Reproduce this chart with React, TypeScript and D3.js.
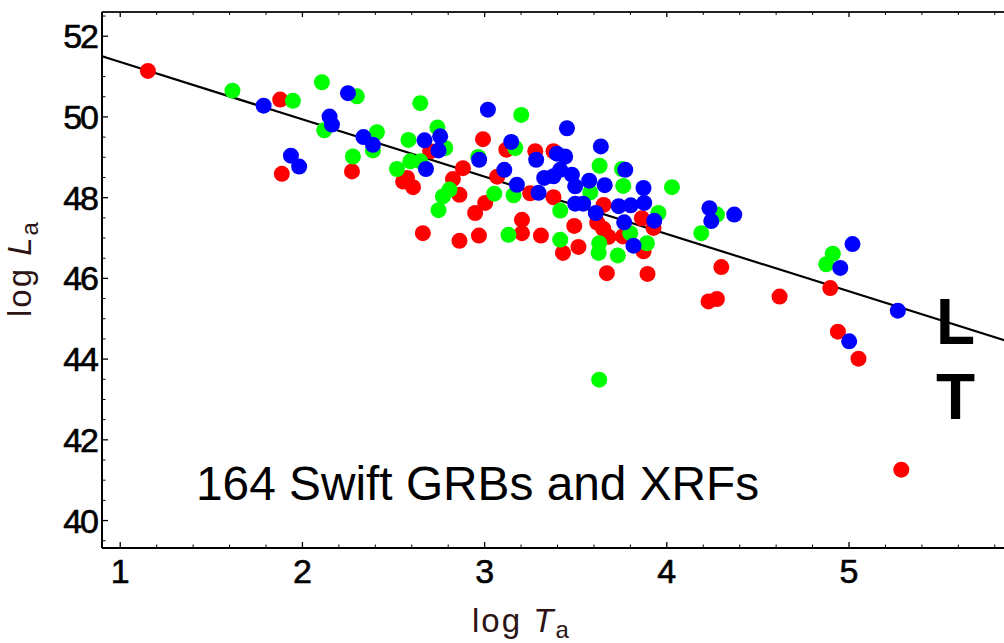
import React from 'react';
import * as d3 from 'd3';

// [log T_a, log L_a]
const redPoints: [number, number][] = [
  [1.152, 51.14], [1.878, 50.43], [1.887, 48.59], [2.272, 48.65], [2.574, 48.49],
  [2.607, 48.26], [2.553, 48.40], [2.701, 49.15], [2.881, 48.73], [2.826, 48.46],
  [2.862, 48.07], [2.991, 49.45], [3.003, 47.87], [2.948, 47.62], [2.661, 47.12],
  [2.862, 46.93], [2.969, 47.06], [3.069, 48.52], [3.119, 49.19], [3.278, 49.15],
  [3.378, 49.15], [3.250, 48.11], [3.378, 48.01], [3.205, 47.45], [3.205, 47.12],
  [3.309, 47.06], [3.430, 46.63], [3.515, 46.78], [3.492, 47.30], [3.653, 47.82],
  [3.618, 47.38], [3.651, 47.23], [3.680, 47.03], [3.759, 47.04], [3.863, 47.49],
  [3.927, 47.25], [3.872, 46.67], [3.671, 46.13], [3.894, 46.11], [4.299, 46.28],
  [4.229, 45.43], [4.275, 45.49], [4.619, 45.55], [4.897, 45.76], [4.939, 44.68],
  [5.052, 44.01], [5.287, 41.26],
];

const greenPoints: [number, number][] = [
  [1.616, 50.65], [1.948, 50.40], [2.107, 50.86], [2.299, 50.51], [2.647, 50.34],
  [3.201, 50.05], [2.120, 49.67], [2.409, 49.62], [2.387, 49.17], [2.277, 49.02],
  [2.582, 49.43], [2.741, 49.74], [2.784, 49.23], [2.519, 48.71], [2.592, 48.90],
  [2.647, 48.90], [2.965, 49.01], [2.807, 48.20], [2.771, 48.03], [2.747, 47.69],
  [3.053, 48.10], [3.168, 49.23], [3.159, 48.06], [3.131, 47.08], [3.415, 46.96],
  [3.415, 47.68], [3.580, 48.13], [3.631, 48.79], [3.754, 48.71], [3.761, 48.29],
  [4.028, 48.26], [3.954, 47.62], [3.799, 47.12], [3.891, 46.87], [3.629, 46.87],
  [3.626, 46.63], [3.731, 46.57], [3.629, 43.49], [4.189, 47.12], [4.275, 47.58],
  [4.911, 46.61], [4.875, 46.35],
];

const bluePoints: [number, number][] = [
  [1.787, 50.28], [1.937, 49.04], [1.982, 48.77], [2.250, 50.59], [2.149, 50.01],
  [2.162, 49.81], [2.335, 49.50], [2.387, 49.31], [3.018, 50.18], [2.670, 49.42],
  [2.756, 49.52], [2.747, 49.17], [2.678, 48.71], [2.970, 48.94], [3.146, 49.38],
  [3.452, 49.72], [3.638, 49.27], [3.283, 48.94], [3.397, 49.09], [3.442, 49.02],
  [3.415, 48.69], [3.108, 48.69], [3.177, 48.32], [3.327, 48.49], [3.378, 48.53],
  [3.479, 48.57], [3.497, 48.28], [3.574, 48.42], [3.659, 48.31], [3.296, 48.12],
  [3.772, 48.69], [3.872, 48.24], [3.876, 47.87], [3.802, 47.81], [3.736, 47.79],
  [3.497, 47.85], [3.541, 47.85], [3.610, 47.62], [3.766, 47.39], [3.931, 47.43],
  [3.817, 46.81], [4.234, 47.74], [4.244, 47.42], [4.370, 47.58], [5.019, 46.85],
  [4.952, 46.26], [5.268, 45.20], [5.001, 44.44],
];

const fitIntercept = 52.78;
const fitSlope = -1.42;

const xMajorTicks = [1, 2, 3, 4, 5];
const yMajorTicks = [40, 42, 44, 46, 48, 50, 52];

const W = 1004;
const H = 643;

export default function App() {
  const x = d3.scaleLinear().domain([0.9, 5.9]).range([102, 1013]);
  const y = d3.scaleLinear().domain([39.32, 52.6]).range([548, 12]);
  const [x0, x1] = x.range();
  const [yb, yt] = y.range();

  const xMinor = d3.range(1.2, 5.81, 0.2).filter((v) => Math.abs(v - Math.round(v)) > 0.05);
  const yMinor = d3.range(39.5, 52.6, 0.5).filter((v) => Math.abs(v / 2 - Math.round(v / 2)) > 0.1);

  const line = d3
    .line<number>()
    .x((t) => x(t))
    .y((t) => y(fitIntercept + fitSlope * t));

  const series: { pts: [number, number][]; color: string }[] = [
    { pts: redPoints, color: '#ff0000' },
    { pts: greenPoints, color: '#00ff00' },
    { pts: bluePoints, color: '#0000ff' },
  ];

  const tickFont = {
    fontFamily: 'Liberation Sans, Arial, sans-serif',
    fontSize: 34,
    stroke: '#000',
    strokeWidth: 0.6,
  };
  const labelColor = '#2d1414';

  return (
    <svg
      width={W}
      height={H}
      viewBox={`0 0 ${W} ${H}`}
      style={{ position: 'absolute', left: 0, top: 0, background: '#fff' }}
    >
      <rect x={0} y={0} width={W} height={H} fill="#fff" />
      {/* fit line */}
      <path d={line([0.9, 5.9]) || ''} stroke="#000" strokeWidth={2.2} fill="none" />

      {/* points */}
      {series.map((s, si) =>
        s.pts.map((p, i) => (
          <circle key={`${si}-${i}`} cx={x(p[0])} cy={y(p[1])} r={8} fill={s.color} />
        ))
      )}

      {/* frame */}
      <line x1={x0} y1={yt} x2={x1} y2={yt} stroke="#222" strokeWidth={2} />
      <line x1={x0} y1={yb} x2={x1} y2={yb} stroke="#000" strokeWidth={2} />
      <line x1={x0} y1={yt} x2={x0} y2={yb} stroke="#000" strokeWidth={2} />

      {/* x ticks */}
      {xMajorTicks.map((t) => (
        <g key={`xm${t}`}>
          <line x1={x(t)} x2={x(t)} y1={yb} y2={yb - 6} stroke="#000" strokeWidth={1.3} />
          <line x1={x(t)} x2={x(t)} y1={yt} y2={yt + 5} stroke="#000" strokeWidth={1.3} />
          <text x={x(t)} y={583} textAnchor="middle" {...tickFont} fill="#000">
            {t}
          </text>
        </g>
      ))}
      {xMinor.map((t, i) => (
        <g key={`xn${i}`}>
          <line x1={x(t)} x2={x(t)} y1={yb} y2={yb - 3.5} stroke="#000" strokeWidth={1} />
          <line x1={x(t)} x2={x(t)} y1={yt} y2={yt + 3} stroke="#000" strokeWidth={1} />
        </g>
      ))}

      {/* y ticks */}
      {yMajorTicks.map((t) => (
        <g key={`ym${t}`}>
          <line x1={x0} x2={x0 + 6} y1={y(t)} y2={y(t)} stroke="#000" strokeWidth={1.3} />
          <text x={97} y={y(t) + 12} textAnchor="end" {...tickFont} letterSpacing={-2} fill="#000">
            {t}
          </text>
        </g>
      ))}
      {yMinor.map((t, i) => (
        <line key={`yn${i}`} x1={x0} x2={x0 + 3.5} y1={y(t)} y2={y(t)} stroke="#000" strokeWidth={1} />
      ))}

      {/* axis labels */}
      <text
        x={472}
        y={632}
        fontFamily="Liberation Sans, Arial, sans-serif"
        fontSize={33}
        letterSpacing={2}
        fill={labelColor}
      >
        log <tspan fontStyle="italic">T</tspan>
        <tspan fontSize={24} dy={6}>a</tspan>
      </text>
      <text
        transform="translate(31,317) rotate(-90)"
        fontFamily="Liberation Sans, Arial, sans-serif"
        fontSize={33}
        letterSpacing={2}
        fill={labelColor}
      >
        log <tspan fontStyle="italic">L</tspan>
        <tspan fontSize={24} dy={7}>a</tspan>
      </text>

      {/* annotation */}
      <text x={196} y={500} fontFamily="Liberation Sans, Arial, sans-serif" fontSize={47.8} fill="#000">
        164 Swift GRBs and XRFs
      </text>
      <text x={936} y={344} fontFamily="Liberation Sans, Arial, sans-serif" fontSize={64} fontWeight="bold" fill="#000">
        L
      </text>
      <text x={936} y={419} fontFamily="Liberation Sans, Arial, sans-serif" fontSize={64} fontWeight="bold" fill="#000">
        T
      </text>
    </svg>
  );
}
